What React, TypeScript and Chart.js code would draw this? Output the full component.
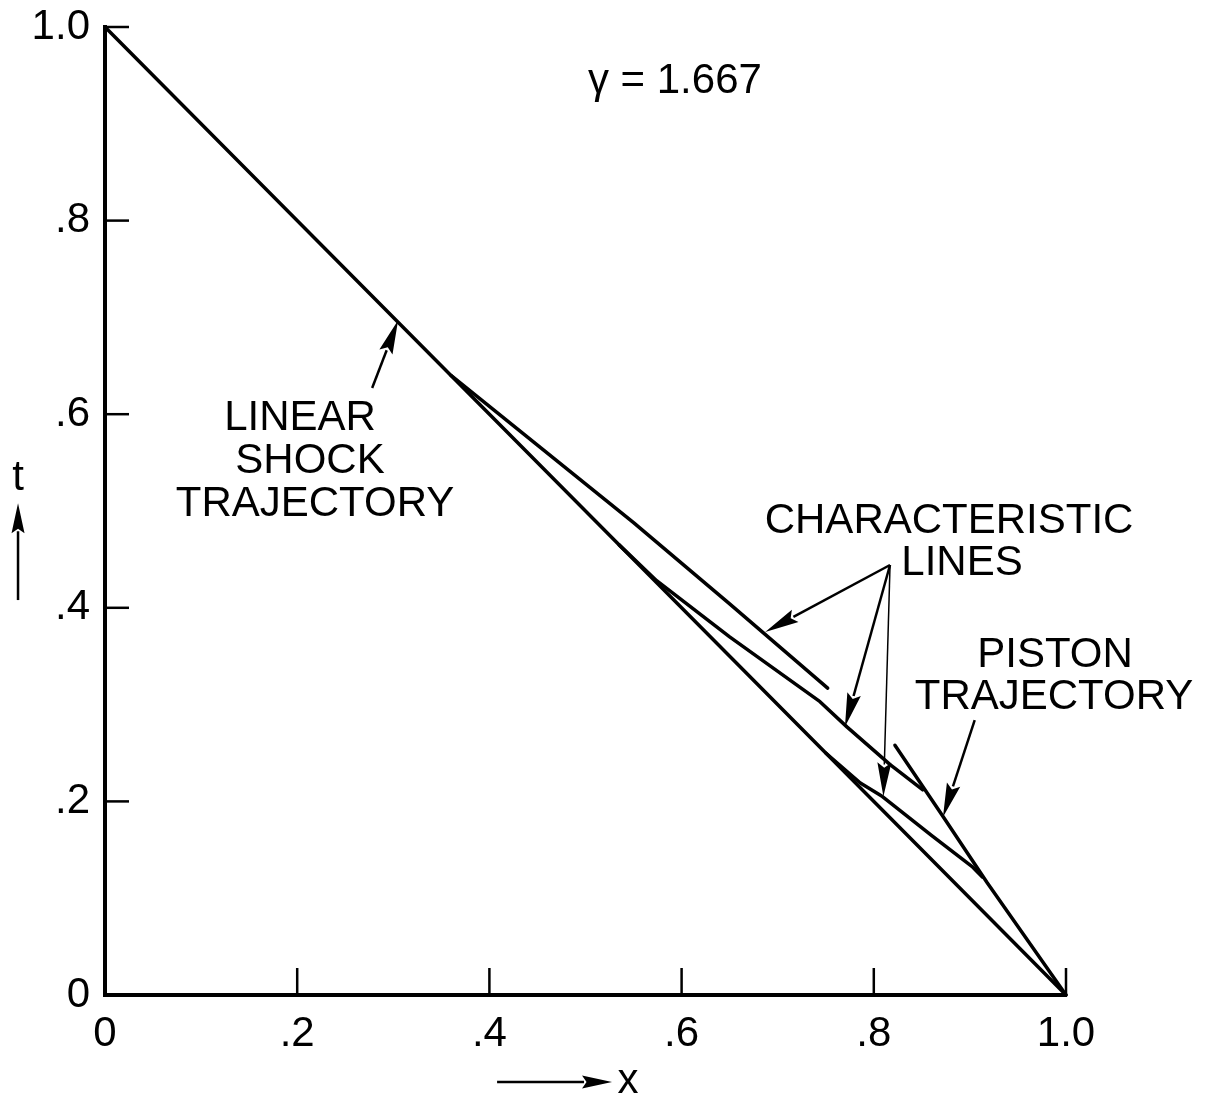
import React, { useEffect, useRef } from "react";
import { Chart, registerables } from "chart.js";

Chart.register(...registerables);

// ---- axis ticks ----
const xTicks = [0, 0.2, 0.4, 0.6, 0.8, 1.0];
const tTicks = [0, 0.2, 0.4, 0.6, 0.8, 1.0];
const tickLabels = ["0", ".2", ".4", ".6", ".8", "1.0"];

// ---- series (x, t) ----
const shockX = [0, 1.0];
const shockT = [1.0, 0];

const upperCharX = [0.36, 0.45, 0.55, 0.65, 0.752];
const upperCharT = [0.64, 0.568, 0.488, 0.404, 0.317];

const middleCharX = [0.535, 0.574, 0.65, 0.744, 0.772, 0.817, 0.851];
const middleCharT = [0.465, 0.428, 0.37, 0.303, 0.277, 0.238, 0.212];

const lowerCharX = [0.75, 0.786, 0.809, 0.86, 0.903, 0.913];
const lowerCharT = [0.25, 0.219, 0.205, 0.165, 0.132, 0.122];

const pistonX = [0.822, 0.871, 0.918, 1.0];
const pistonT = [0.258, 0.186, 0.116, 0.0];

// ---- annotation texts (data coords of text centre) ----
const noteText = ["γ = 1.667", "LINEAR", "SHOCK", "TRAJECTORY", "CHARACTERISTIC", "LINES", "PISTON", "TRAJECTORY"];
const noteX = [0.593, 0.203, 0.2133, 0.2185, 0.8783, 0.8918, 0.9886, 0.9875];
const noteT = [0.947, 0.599, 0.5548, 0.5103, 0.4928, 0.4494, 0.3543, 0.311];

// ---- annotation arrows (tail -> tip) ----
const arrowX1 = [0.278, 0.8169, 0.8169, 0.8169, 0.905];
const arrowT1 = [0.627, 0.4442, 0.4442, 0.4442, 0.284];
const arrowX2 = [0.305, 0.687, 0.77, 0.81, 0.872];
const arrowT2 = [0.697, 0.375, 0.277, 0.205, 0.184];
const arrowW = [2.5, 2.5, 2.5, 1.5, 2.5];

// ---- axis direction indicators ----
const xIndicator = { x1: 0.408, x2: 0.5276, t: -0.0899, labelX: 0.5442, label: "x" };
const tIndicator = { x: -0.0905, t1: 0.408, t2: 0.508, labelT: 0.535, label: "t" };

const FONT = '"Liberation Sans", Arial, sans-serif';

function toPoints(xs: number[], ts: number[]) {
  return xs.map((x, i) => ({ x, y: ts[i] }));
}

function drawArrow(ctx: CanvasRenderingContext2D, x1: number, y1: number, x2: number, y2: number, lw: number, headLen: number, headW: number) {
  const dx = x2 - x1;
  const dy = y2 - y1;
  const len = Math.hypot(dx, dy);
  const ux = dx / len;
  const uy = dy / len;
  const bx = x2 - ux * headLen;
  const by = y2 - uy * headLen;
  ctx.lineWidth = lw;
  ctx.beginPath();
  ctx.moveTo(x1, y1);
  ctx.lineTo(bx + ux * 2, by + uy * 2);
  ctx.stroke();
  ctx.beginPath();
  ctx.moveTo(x2, y2);
  ctx.lineTo(bx - uy * headW, by + ux * headW);
  ctx.lineTo(bx + ux * headLen * 0.15, by + uy * headLen * 0.15);
  ctx.lineTo(bx + uy * headW, by - ux * headW);
  ctx.closePath();
  ctx.fill();
}

const annotPlugin = {
  id: "annot",
  afterDraw(chart: any) {
    const { ctx, scales } = chart;
    const sx = scales.x;
    const sy = scales.y;
    const px = (v: number) => sx.getPixelForValue(v);
    const py = (v: number) => sy.getPixelForValue(v);
    ctx.save();
    ctx.strokeStyle = "#000";
    ctx.fillStyle = "#000";
    ctx.lineCap = "butt";

    // inward tick marks
    ctx.lineWidth = 2.5;
    xTicks.forEach((v) => {
      if (v === 0) return;
      const X = px(v);
      ctx.beginPath();
      ctx.moveTo(X, py(0));
      ctx.lineTo(X, py(0) - 27);
      ctx.stroke();
    });
    tTicks.forEach((v) => {
      if (v === 0) return;
      const Y = py(v);
      ctx.beginPath();
      ctx.moveTo(px(0), Y);
      ctx.lineTo(px(0) + 24, Y);
      ctx.stroke();
    });

    // texts
    ctx.font = `42px ${FONT}`;
    ctx.textAlign = "center";
    ctx.textBaseline = "alphabetic";
    noteText.forEach((s, i) => {
      ctx.fillText(s, px(noteX[i]), py(noteT[i]) + 15);
    });

    // arrows
    arrowX1.forEach((_, i) => {
      drawArrow(ctx, px(arrowX1[i]), py(arrowT1[i]), px(arrowX2[i]), py(arrowT2[i]), arrowW[i], 34, 7);
    });

    // axis indicators
    drawArrow(ctx, px(xIndicator.x1), py(xIndicator.t), px(xIndicator.x2), py(xIndicator.t), 2.5, 30, 6.5);
    ctx.fillText(xIndicator.label, px(xIndicator.labelX), py(xIndicator.t) + 11);
    drawArrow(ctx, px(tIndicator.x), py(tIndicator.t1), px(tIndicator.x), py(tIndicator.t2), 2.5, 30, 6.5);
    ctx.fillText(tIndicator.label, px(tIndicator.x), py(tIndicator.labelT) + 13);

    ctx.restore();
  },
};

export default function App() {
  const ref = useRef<HTMLCanvasElement | null>(null);

  useEffect(() => {
    if (!ref.current) return;
    const lineStyle = {
      borderColor: "#000",
      borderWidth: 3.5,
      pointRadius: 0,
      showLine: true,
      fill: false,
      tension: 0,
      borderJoinStyle: "round" as const,
      borderCapStyle: "round" as const,
      clip: false as any,
    };
    const tickCb = (value: any) => {
      const i = xTicks.findIndex((v) => Math.abs(v - Number(value)) < 1e-6);
      return i >= 0 ? tickLabels[i] : "";
    };
    const chart = new Chart(ref.current, {
      type: "scatter",
      data: {
        datasets: [
          { label: "Linear shock trajectory", data: toPoints(shockX, shockT), ...lineStyle },
          { label: "Characteristic 1", data: toPoints(upperCharX, upperCharT), ...lineStyle },
          { label: "Characteristic 2", data: toPoints(middleCharX, middleCharT), ...lineStyle },
          { label: "Characteristic 3", data: toPoints(lowerCharX, lowerCharT), ...lineStyle },
          { label: "Piston trajectory", data: toPoints(pistonX, pistonT), ...lineStyle },
        ],
      },
      options: {
        animation: false,
        responsive: false,
        maintainAspectRatio: false,
        devicePixelRatio: 1,
        layout: { padding: { left: 0, top: 27, right: 141, bottom: 0 } },
        plugins: { legend: { display: false }, tooltip: { enabled: false } },
        scales: {
          x: {
            type: "linear",
            min: 0,
            max: 1,
            ticks: {
              stepSize: 0.2,
              callback: tickCb,
              color: "#000",
              padding: 14,
              maxRotation: 0,
              font: { family: FONT, size: 42 },
            },
            grid: { display: false, drawTicks: false },
            border: { display: true, color: "#000", width: 4 },
            afterFit: (s: any) => {
              s.height = 105;
              s.paddingLeft = 0;
              s.paddingRight = 0;
            },
          },
          y: {
            type: "linear",
            min: 0,
            max: 1,
            ticks: {
              stepSize: 0.2,
              callback: tickCb,
              color: "#000",
              padding: 15,
              font: { family: FONT, size: 42 },
            },
            grid: { display: false, drawTicks: false },
            border: { display: true, color: "#000", width: 4 },
            afterFit: (s: any) => {
              s.width = 105;
              s.paddingTop = 0;
              s.paddingBottom = 0;
            },
          },
        },
      },
      plugins: [annotPlugin],
    } as any);
    return () => chart.destroy();
  }, []);

  return (
    <div style={{ position: "absolute", left: 0, top: 0, width: 1207, height: 1100, background: "#fff" }}>
      <canvas ref={ref} width={1207} height={1100} style={{ display: "block" }} />
    </div>
  );
}
